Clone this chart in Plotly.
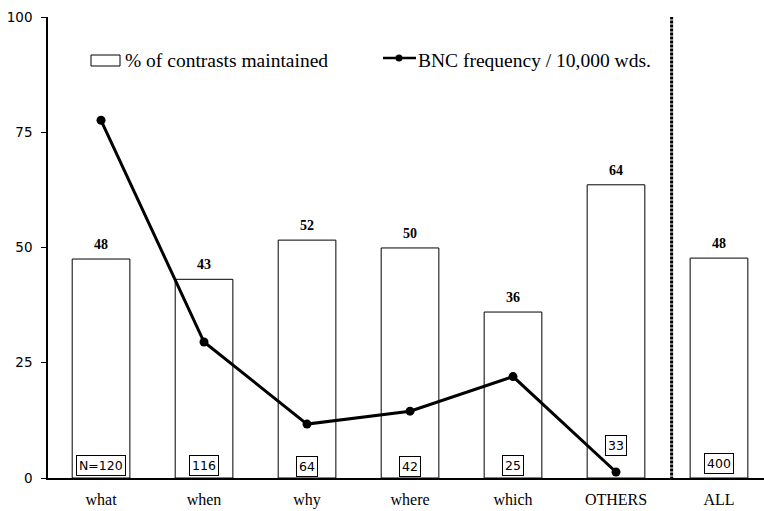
import plotly.graph_objects as go

categories = ["what", "when", "why", "where", "which", "OTHERS", "ALL"]
pct_maintained = [47.5, 43.1, 51.6, 49.9, 36.0, 63.6, 47.7]
pct_labels = ["48", "43", "52", "50", "36", "64", "48"]
bnc_categories = ["what", "when", "why", "where", "which", "OTHERS"]
bnc_freq = [77.6, 29.5, 11.7, 14.5, 22.0, 1.3]
n_labels = ["N=120", "116", "64", "42", "25", "33", "400"]
n_label_y = [2.8, 2.8, 2.6, 2.4, 2.8, 7.0, 3.25]
y_ticks = [0, 25, 50, 75, 100]

serif = "Liberation Serif, Times New Roman, serif"
sans = "DejaVu Sans, Verdana, sans-serif"

fig = go.Figure()
fig.add_trace(go.Bar(
    x=list(range(len(categories))), y=pct_maintained, width=0.56,
    marker=dict(color="white", line=dict(color="black", width=1)),
    name="% of contrasts maintained", showlegend=False, hoverinfo="skip"))
fig.add_trace(go.Scatter(
    x=list(range(len(bnc_categories))), y=bnc_freq, mode="lines+markers",
    line=dict(color="black", width=3), marker=dict(color="black", size=9),
    name="BNC frequency / 10,000 wds.", showlegend=False))

for i, (v, t) in enumerate(zip(pct_maintained, pct_labels)):
    fig.add_annotation(x=i, y=v, text="<b>%s</b>" % t, showarrow=False,
                       yanchor="bottom", yshift=5,
                       font=dict(family=serif, size=14, color="black"))
for i, (t, yy) in enumerate(zip(n_labels, n_label_y)):
    fig.add_annotation(x=i, y=yy, text=t, showarrow=False,
                       bordercolor="black", borderwidth=1, borderpad=2,
                       bgcolor="white",
                       font=dict(family=sans, size=12.5, color="black"))

# separator line before ALL
fig.add_shape(type="line", x0=5.54, x1=5.54, y0=-1.2, y1=100,
              xref="x", yref="y",
              line=dict(color="black", width=3, dash="3px,1px"))

# manual legend
fig.add_shape(type="rect", xref="paper", yref="paper",
              x0=(91 - 48) / 716, x1=(120 - 48) / 716,
              y0=(478 - 66) / 461, y1=(478 - 55) / 461,
              line=dict(color="black", width=1), fillcolor="white")
fig.add_annotation(xref="paper", yref="paper", x=(123 - 48) / 716,
                   y=(478 - 60) / 461, text="% of contrasts maintained",
                   showarrow=False, xanchor="left", yanchor="middle",
                   font=dict(family=serif, size=19.5, color="black"))
fig.add_shape(type="line", xref="paper", yref="paper",
              x0=(383 - 48) / 716, x1=(416 - 48) / 716,
              y0=(478 - 58) / 461, y1=(478 - 58) / 461,
              line=dict(color="black", width=2.5))
fig.add_shape(type="circle", xref="paper", yref="paper",
              x0=(395.5 - 48) / 716, x1=(402.5 - 48) / 716,
              y0=(478 - 61.5) / 461, y1=(478 - 54.5) / 461,
              line=dict(color="black", width=0), fillcolor="black")
fig.add_annotation(xref="paper", yref="paper", x=(416 - 48) / 716,
                   y=(478 - 60) / 461, text="BNC frequency / 10,000 wds.",
                   showarrow=False, xanchor="left", yanchor="middle",
                   font=dict(family=serif, size=19.5, color="black"))

fig.update_layout(
    width=764, height=511,
    margin=dict(l=48, r=0, t=17, b=33, autoexpand=False),
    paper_bgcolor="white", plot_bgcolor="white",
    xaxis=dict(range=[-0.515, 6.437], tickmode="array",
               tickvals=list(range(len(categories))), ticktext=categories,
               showline=True, linecolor="black", linewidth=1.5,
               ticks="", showgrid=False, zeroline=False, automargin=False,
               ticklabelstandoff=6,
               tickfont=dict(family=serif, size=16, color="black")),
    yaxis=dict(range=[0, 100], tickmode="array", tickvals=y_ticks,
               showline=True, linecolor="black", linewidth=1.5,
               ticks="outside", ticklen=5, tickcolor="black",
               showgrid=False, zeroline=False, automargin=False,
               ticklabelstandoff=6,
               tickfont=dict(family=sans, size=13.5, color="black")),
)

fig.write_html("out.html", config={"displayModeBar": False},
               post_script="document.body.style.margin='0';")
